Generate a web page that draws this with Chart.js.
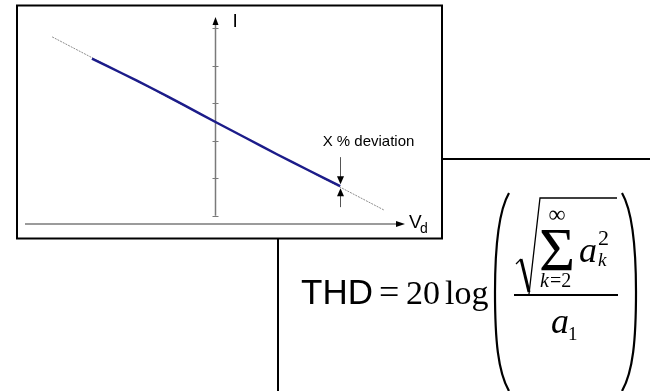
<!DOCTYPE html>
<html>
<head>
<meta charset="utf-8">
<script src="https://cdn.jsdelivr.net/npm/chart.js@4.4.1/dist/chart.umd.min.js"></script>
<style>
  html, body { margin: 0; padding: 0; background: #ffffff; }
  #wrap { width: 650px; height: 391px; position: relative; }
</style>
</head>
<body>
<div id="wrap"><canvas id="c" width="650" height="391"></canvas></div>
<script>
// Diode-style transfer curve: measured current vs. drive voltage (arbitrary units)
const measuredV = [-3.26, -2.47, -1.68, -0.83, 0, 0.83, 1.62, 2.44, 3.29];
const measuredI = [1.69, 1.30, 0.90, 0.45, 0, -0.44, -0.86, -1.28, -1.71];

// Ideal straight-line response, drawn thin behind the measurement
const idealV = [-4.31, 4.45];
const idealI = [2.27, -2.35];

// Tick positions on the current axis
const currentTicks = [-2.5, -1.5, -0.5, 0.5, 1.5, 2.5];

// Axis extents
const vRange = [-5, 5];
const iRange = [-2.72, 2.8];

const labels = { current: 'I', voltage: 'V', voltageSub: 'd', deviation: 'X % deviation' };

const measuredPts = measuredV.map((v, k) => ({ x: v, y: measuredI[k] }));
const idealPts = idealV.map((v, k) => ({ x: v, y: idealI[k] }));

const SANS = '"Liberation Sans", Arial, sans-serif';
const SERIF = '"Liberation Serif", "Times New Roman", serif';

function arrowHead(ctx, x, y, dir, len, half) {
  // dir: 'up', 'down', 'right'
  ctx.beginPath();
  if (dir === 'up') { ctx.moveTo(x, y); ctx.lineTo(x - half, y + len); ctx.lineTo(x + half, y + len); }
  if (dir === 'down') { ctx.moveTo(x, y); ctx.lineTo(x - half, y - len); ctx.lineTo(x + half, y - len); }
  if (dir === 'right') { ctx.moveTo(x, y); ctx.lineTo(x - len, y - half); ctx.lineTo(x - len, y + half); }
  ctx.closePath();
  ctx.fill();
}

const axesPlugin = {
  id: 'axesPlugin',
  beforeDatasetsDraw(chart) {
    const ctx = chart.ctx;
    const xs = chart.scales.x, ys = chart.scales.y;
    const x0 = xs.getPixelForValue(0);
    const yBottom = ys.getPixelForValue(iRange[0]);
    const yTop = ys.getPixelForValue(iRange[1]);
    const xLeft = xs.getPixelForValue(vRange[0]);
    const xRight = xs.getPixelForValue(vRange[1]);
    ctx.save();
    // current axis
    ctx.strokeStyle = '#7a7a7a';
    ctx.lineWidth = 1.5;
    ctx.beginPath();
    ctx.moveTo(x0, ys.getPixelForValue(currentTicks[0]));
    ctx.lineTo(x0, yTop + 4);
    ctx.stroke();
    ctx.lineWidth = 1;
    currentTicks.forEach(t => {
      const py = Math.round(ys.getPixelForValue(t)) + 0.5;
      ctx.beginPath();
      ctx.moveTo(x0 - 3, py);
      ctx.lineTo(x0 + 3, py);
      ctx.stroke();
    });
    // voltage axis
    ctx.lineWidth = 1.5;
    ctx.beginPath();
    ctx.moveTo(xLeft - 1, yBottom);
    ctx.lineTo(xRight - 5, yBottom);
    ctx.stroke();
    ctx.fillStyle = '#000';
    arrowHead(ctx, x0, yTop, 'up', 8, 3);
    arrowHead(ctx, xRight, yBottom, 'right', 9, 3);
    // axis labels
    ctx.fillStyle = '#000';
    ctx.font = '19px ' + SANS;
    ctx.textBaseline = 'alphabetic';
    ctx.fillText(labels.current, x0 + 17, yTop + 10);
    ctx.fillText(labels.voltage, xRight + 4, yBottom + 4);
    ctx.font = '14px ' + SANS;
    ctx.fillText(labels.voltageSub, xRight + 15, yBottom + 9);
    ctx.restore();
  },
  afterDraw(chart) {
    const ctx = chart.ctx;
    const xs = chart.scales.x, ys = chart.scales.y;
    ctx.save();
    // deviation marker at the end of the measured curve
    const last = measuredPts[measuredPts.length - 1];
    const dx = Math.round(xs.getPixelForValue(last.x)) + 0.5;
    const dy = ys.getPixelForValue(last.y);
    ctx.strokeStyle = '#555';
    ctx.fillStyle = '#000';
    ctx.lineWidth = 1;
    ctx.beginPath(); ctx.moveTo(dx, dy - 29); ctx.lineTo(dx, dy - 6); ctx.stroke();
    arrowHead(ctx, dx, dy - 2, 'down', 8, 3.5);
    ctx.beginPath(); ctx.moveTo(dx, dy + 8); ctx.lineTo(dx, dy + 21); ctx.stroke();
    arrowHead(ctx, dx, dy + 2, 'up', 8, 3.5);
    ctx.font = '15px ' + SANS;
    ctx.textAlign = 'center';
    ctx.fillText(labels.deviation, dx + 28, dy - 40);
    ctx.textAlign = 'left';

    // frame around the plot and the divider lines
    ctx.strokeStyle = '#000';
    ctx.lineWidth = 2;
    ctx.strokeRect(17, 5.5, 425, 233);
    ctx.beginPath(); ctx.moveTo(442, 159); ctx.lineTo(650, 159); ctx.stroke();
    ctx.beginPath(); ctx.moveTo(278, 239); ctx.lineTo(278, 391); ctx.stroke();

    // THD formula
    ctx.fillStyle = '#000';
    ctx.font = '35px ' + SANS;
    ctx.fillText('THD', 301, 304);
    ctx.font = '36px ' + SERIF;
    ctx.fillText('=', 379, 304);
    ctx.font = '34px ' + SERIF;
    ctx.fillText('20', 406, 304);
    ctx.fillText('log', 445, 304);

    // big parentheses
    ctx.lineWidth = 2.2;
    ctx.beginPath();
    ctx.moveTo(509, 193);
    ctx.bezierCurveTo(498, 212, 495, 250, 495, 292);
    ctx.bezierCurveTo(495, 340, 498, 372, 509, 391);
    ctx.stroke();
    ctx.beginPath();
    ctx.moveTo(622, 193);
    ctx.bezierCurveTo(633, 212, 636, 250, 636, 292);
    ctx.bezierCurveTo(636, 340, 633, 372, 622, 391);
    ctx.stroke();

    // radical
    ctx.lineJoin = 'miter';
    ctx.lineWidth = 1.3;
    ctx.beginPath();
    ctx.moveTo(516, 264);
    ctx.lineTo(521, 259);
    ctx.stroke();
    ctx.lineWidth = 3;
    ctx.beginPath();
    ctx.moveTo(521, 259);
    ctx.lineTo(529, 292);
    ctx.stroke();
    ctx.lineWidth = 1.3;
    ctx.beginPath();
    ctx.moveTo(529, 294);
    ctx.lineTo(540, 198);
    ctx.lineTo(617, 198);
    ctx.stroke();

    // sum
    ctx.font = '62px ' + SERIF;
    ctx.fillText('\u03A3', 539, 270);
    ctx.font = '24px ' + SERIF;
    ctx.textAlign = 'center';
    ctx.fillText('\u221E', 557, 222);
    ctx.textAlign = 'left';
    ctx.font = 'italic 20px ' + SERIF;
    ctx.fillText('k', 540, 287);
    ctx.font = '20px ' + SERIF;
    ctx.fillText('=2', 550, 287);
    ctx.font = 'italic 36px ' + SERIF;
    ctx.fillText('a', 579, 262);
    ctx.font = '22px ' + SERIF;
    ctx.fillText('2', 598, 245);
    ctx.font = 'italic 19px ' + SERIF;
    ctx.fillText('k', 598, 266);

    // fraction bar
    ctx.lineWidth = 2;
    ctx.beginPath(); ctx.moveTo(514, 295); ctx.lineTo(618, 295); ctx.stroke();

    // denominator
    ctx.font = 'italic 36px ' + SERIF;
    ctx.fillText('a', 551, 333);
    ctx.font = '19px ' + SERIF;
    ctx.fillText('1', 568, 340);
    ctx.restore();
  }
};

new Chart(document.getElementById('c'), {
  type: 'scatter',
  data: {
    datasets: [
      {
        label: 'ideal',
        data: idealPts,
        showLine: true,
        borderColor: '#8c8c8c',
        borderWidth: 1,
        borderDash: [2, 1],
        pointRadius: 0,
        order: 2
      },
      {
        label: 'measured',
        data: measuredPts,
        showLine: true,
        borderColor: '#1c1c8a',
        borderWidth: 2.5,
        tension: 0.3,
        pointRadius: 0,
        order: 1
      }
    ]
  },
  options: {
    responsive: false,
    animation: false,
    devicePixelRatio: 1,
    layout: { padding: { left: 26, right: 245, top: 17, bottom: 167 } },
    plugins: { legend: { display: false }, tooltip: { enabled: false } },
    scales: {
      x: { type: 'linear', min: vRange[0], max: vRange[1], display: false },
      y: { type: 'linear', min: iRange[0], max: iRange[1], display: false }
    }
  },
  plugins: [axesPlugin]
});
</script>
</body>
</html>
